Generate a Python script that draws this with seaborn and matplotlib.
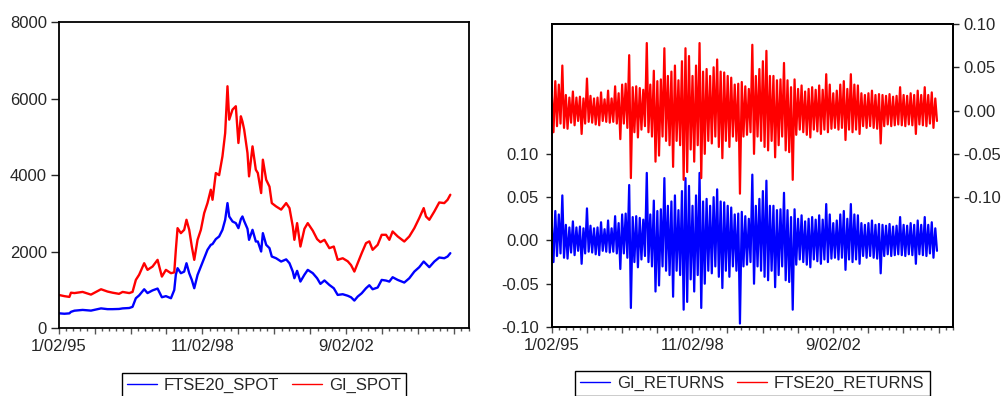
import matplotlib
matplotlib.use("Agg")
import matplotlib.pyplot as plt
import numpy as np
import pandas as pd
import seaborn as sns
from matplotlib.ticker import MultipleLocator

# ---------------- data ----------------
# observation number (business days since 1/02/95)
spot_obs = [0, 40, 75, 86, 110, 167, 225, 295, 340, 375, 420, 445, 491, 514, 537, 560,
            595, 618, 653, 688, 718, 746, 781, 804, 815, 827, 850, 873, 889, 908, 926,
            943, 966, 989, 1012, 1035, 1058, 1070, 1093, 1116, 1139, 1158, 1174, 1186,
            1209, 1232, 1250, 1267, 1278, 1290, 1313, 1324, 1348, 1371, 1385, 1408, 1420,
            1443, 1466, 1482, 1512, 1547, 1582, 1605, 1628, 1639, 1658, 1681, 1709, 1732,
            1767, 1797, 1820, 1848, 1882, 1913, 1940, 1975, 2010, 2033, 2056, 2079, 2107,
            2137, 2160, 2183, 2218, 2246, 2276, 2299, 2322, 2357, 2403, 2438, 2473, 2507,
            2538, 2554, 2577, 2612, 2646, 2681, 2704, 2723]
gi_spot = [872, 840, 820, 930, 920, 950, 880, 1020, 960, 930, 900, 950, 920, 950, 1264, 1400,
           1700, 1526, 1613, 1788, 1351, 1526, 1439, 1460, 2050, 2616, 2485, 2572, 2834, 2572, 2136,
           1788, 2311, 2572, 3008, 3270, 3619, 3357, 4055, 4000, 4491, 5101, 6322, 5450,
           5712, 5800, 4840, 5537, 5400, 5188, 4578, 3968, 4752, 4142, 4055, 3532, 4404,
           3880, 3700, 3270, 3183, 3100, 3270, 3139, 2660, 2311, 2747, 2136, 2600, 2747,
           2550, 2330, 2250, 2311, 2093, 2136, 1788, 1830, 1750, 1650, 1482, 1700, 1962,
           2224, 2270, 2050, 2180, 2442, 2442, 2311, 2529, 2400, 2267, 2400, 2616, 2878,
           3139, 2920, 2834, 3052, 3287, 3270, 3357, 3488]
ftse20_spot = [392, 380, 390, 430, 460, 480, 462, 520, 500, 500, 505, 520, 530, 560, 785, 860,
               1020, 920, 990, 1038, 811, 840, 785, 1000, 1400, 1570, 1439, 1480, 1700, 1439, 1264,
               1046, 1395, 1613, 1831, 2050, 2180, 2200, 2330, 2398, 2572, 2834, 3270, 2921,
               2790, 2747, 2616, 2850, 2921, 2800, 2600, 2311, 2572, 2267, 2267, 2006, 2485,
               2180, 2093, 1875, 1830, 1744, 1800, 1700, 1482, 1308, 1500, 1221, 1400, 1526,
               1440, 1308, 1160, 1250, 1133, 1046, 872, 890, 850, 810, 724, 828, 915,
               1046, 1125, 1020, 1065, 1264, 1247, 1220, 1334, 1264, 1195, 1308, 1482, 1596,
               1744, 1683, 1596, 1744, 1849, 1830, 1875, 1962]

# daily returns: highest / lowest value inside each block of 25 observations
block_size = 25
gi_returns_hi = [0.020, 0.034, 0.030, 0.052, 0.018, 0.015, 0.022, 0.015, 0.016, 0.014,
                 0.037, 0.017, 0.014, 0.015, 0.021, 0.013, 0.023, 0.014, 0.028, 0.020,
                 0.030, 0.031, 0.064, 0.027, 0.028, 0.026, 0.024, 0.078, 0.030, 0.046,
                 0.034, 0.036, 0.072, 0.040, 0.045, 0.052, 0.035, 0.057, 0.072, 0.063,
                 0.040, 0.052, 0.078, 0.045, 0.048, 0.040, 0.050, 0.059, 0.045, 0.044,
                 0.040, 0.038, 0.030, 0.031, 0.033, 0.028, 0.025, 0.076, 0.040, 0.048,
                 0.057, 0.069, 0.040, 0.040, 0.035, 0.036, 0.055, 0.035, 0.027, 0.036,
                 0.025, 0.029, 0.022, 0.025, 0.027, 0.024, 0.029, 0.024, 0.042, 0.030,
                 0.020, 0.023, 0.030, 0.034, 0.025, 0.042, 0.030, 0.029, 0.020, 0.018,
                 0.020, 0.023, 0.018, 0.019, 0.018, 0.017, 0.019, 0.016, 0.017, 0.027,
                 0.018, 0.017, 0.020, 0.018, 0.023, 0.018, 0.027, 0.018, 0.021, 0.014]
gi_returns_lo = [-0.025, -0.018, -0.015, -0.020, -0.021, -0.014, -0.017, -0.012, -0.027, -0.015,
                 -0.013, -0.014, -0.016, -0.017, -0.012, -0.013, -0.014, -0.013, -0.015, -0.033,
                 -0.015, -0.020, -0.078, -0.025, -0.031, -0.022, -0.018, -0.025, -0.030, -0.059,
                 -0.052, -0.030, -0.035, -0.040, -0.065, -0.035, -0.040, -0.080, -0.071, -0.045,
                 -0.059, -0.040, -0.078, -0.050, -0.035, -0.038, -0.030, -0.042, -0.055, -0.035,
                 -0.042, -0.030, -0.035, -0.096, -0.030, -0.028, -0.025, -0.050, -0.030, -0.035,
                 -0.042, -0.046, -0.035, -0.054, -0.040, -0.030, -0.046, -0.048, -0.080, -0.028,
                 -0.022, -0.025, -0.028, -0.031, -0.022, -0.024, -0.027, -0.022, -0.025, -0.021,
                 -0.020, -0.022, -0.020, -0.034, -0.022, -0.025, -0.022, -0.027, -0.018, -0.020,
                 -0.018, -0.020, -0.021, -0.038, -0.018, -0.016, -0.018, -0.017, -0.016, -0.017,
                 -0.018, -0.016, -0.017, -0.027, -0.016, -0.017, -0.018, -0.015, -0.020, -0.012]
# the FTSE20 returns trace is visually identical to the GI returns trace
ftse20_returns_hi = list(gi_returns_hi)
ftse20_returns_lo = list(gi_returns_lo)

date_tick_obs = [0, 1000, 2000]
date_tick_labels = ["1/02/95", "11/02/98", "9/02/02"]
spot_ticks = [0, 2000, 4000, 6000, 8000]
spot_tick_labels = ["0", "2000", "4000", "6000", "8000"]
ret_ticks = [-0.10, -0.05, 0.00, 0.05, 0.10]
ret_tick_labels = ["-0.10", "-0.05", "0.00", "0.05", "0.10"]

BLUE = "#0000FF"
RED = "#FF0000"

# ---------------- style ----------------
sns.set_style("ticks")
plt.rcParams["font.family"] = ["Liberation Sans", "DejaVu Sans"]
plt.rcParams["font.size"] = 12
plt.rcParams["axes.unicode_minus"] = False

fig = plt.figure(figsize=(10.08, 3.96), dpi=100)
W, H = 1008.0, 396.0
ax_l = fig.add_axes([58.6 / W, 1 - 328.3 / H, (469.3 - 58.6) / W, (328.3 - 22.0) / H])
ax_r = fig.add_axes([551.5 / W, 1 - 327.0 / H, (953.3 - 551.5) / W, (327.0 - 24.0) / H])
ax_r2 = ax_r.twinx()

# ---------------- left panel: spot levels ----------------
spot_df = pd.DataFrame({"obs": spot_obs, "FTSE20_SPOT": ftse20_spot, "GI_SPOT": gi_spot})
sns.lineplot(data=spot_df, x="obs", y="FTSE20_SPOT", ax=ax_l, color=BLUE, linewidth=1.7,
             estimator=None, sort=False)
sns.lineplot(data=spot_df, x="obs", y="GI_SPOT", ax=ax_l, color=RED, linewidth=1.7,
             estimator=None, sort=False)

# ---------------- right panel: returns ----------------
def zigzag(hi, lo):
    xs, ys = [], []
    for i, (h, l) in enumerate(zip(hi, lo)):
        xs += [i * block_size + 2, i * block_size + 14]
        ys += [h, l]
    return pd.DataFrame({"obs": xs, "ret": ys})

gi_df = zigzag(gi_returns_hi, gi_returns_lo)
ft_df = zigzag(ftse20_returns_hi, ftse20_returns_lo)
sns.lineplot(data=gi_df, x="obs", y="ret", ax=ax_r, color=BLUE, linewidth=1.6,
             estimator=None, sort=False)
sns.lineplot(data=ft_df, x="obs", y="ret", ax=ax_r2, color=RED, linewidth=1.6,
             estimator=None, sort=False)

# ---------------- axes formatting ----------------
def fmt_x(ax):
    ax.set_xlim(0, 2855)
    major = list(range(0, 2851, 250))
    ax.set_xticks(major)
    lab = dict(zip(date_tick_obs, date_tick_labels))
    ax.set_xticklabels([lab.get(m, "") for m in major])
    ax.xaxis.set_minor_locator(MultipleLocator(50))
    ax.tick_params(axis="x", which="major", direction="out", length=4, width=1,
                   pad=4, labelsize=12, color="#555555")
    ax.tick_params(axis="x", which="minor", direction="out", length=2.2, width=1,
                   color="#555555")
    ax.set_xlabel("")

for ax in (ax_l, ax_r, ax_r2):
    for s in ax.spines.values():
        s.set_visible(True)
        s.set_color("black")
        s.set_linewidth(1.3)
    ax.set_facecolor("none")

fmt_x(ax_l)
fmt_x(ax_r)

ax_l.set_ylim(0, 8000)
ax_l.set_yticks(spot_ticks)
ax_l.set_yticklabels(spot_tick_labels)
ax_l.tick_params(axis="y", direction="out", length=5.8, width=1, pad=2.5, labelsize=12)
ax_l.set_ylabel("")

ax_r.set_ylim(-0.10, 0.25)
ax_r.set_yticks(ret_ticks)
ax_r.set_yticklabels(ret_tick_labels)
ax_r.tick_params(axis="y", direction="out", length=4.3, width=1, pad=5, labelsize=12)
ax_r.set_ylabel("")

ax_r2.set_ylim(-0.25, 0.10)
ax_r2.set_yticks(ret_ticks)
ax_r2.set_yticklabels(ret_tick_labels)
ax_r2.tick_params(axis="y", direction="out", length=4.6, width=1, pad=2.5, labelsize=12)
ax_r2.set_ylabel("")

# ---------------- legends ----------------
def add_legend(ax, handles, labels, yoff):
    leg = ax.legend(handles, labels, loc="upper center", bbox_to_anchor=(0.5, yoff),
                    ncol=2, frameon=True, fancybox=False, shadow=False, framealpha=1,
                    edgecolor="black", handlelength=1.8, handletextpad=0.4,
                    columnspacing=0.8, borderpad=0.3, borderaxespad=0, fontsize=12)
    leg.get_frame().set_linewidth(1.0)
    for h in leg.get_lines():
        h.set_linewidth(1.0)
    return leg

add_legend(ax_l, [ax_l.lines[0], ax_l.lines[1]], ["FTSE20_SPOT", "GI_SPOT"], -0.146)
add_legend(ax_r2, [ax_r.lines[0], ax_r2.lines[0]], ["GI_RETURNS", "FTSE20_RETURNS"], -0.144)

fig.savefig("out.png", dpi=100, facecolor="white")
